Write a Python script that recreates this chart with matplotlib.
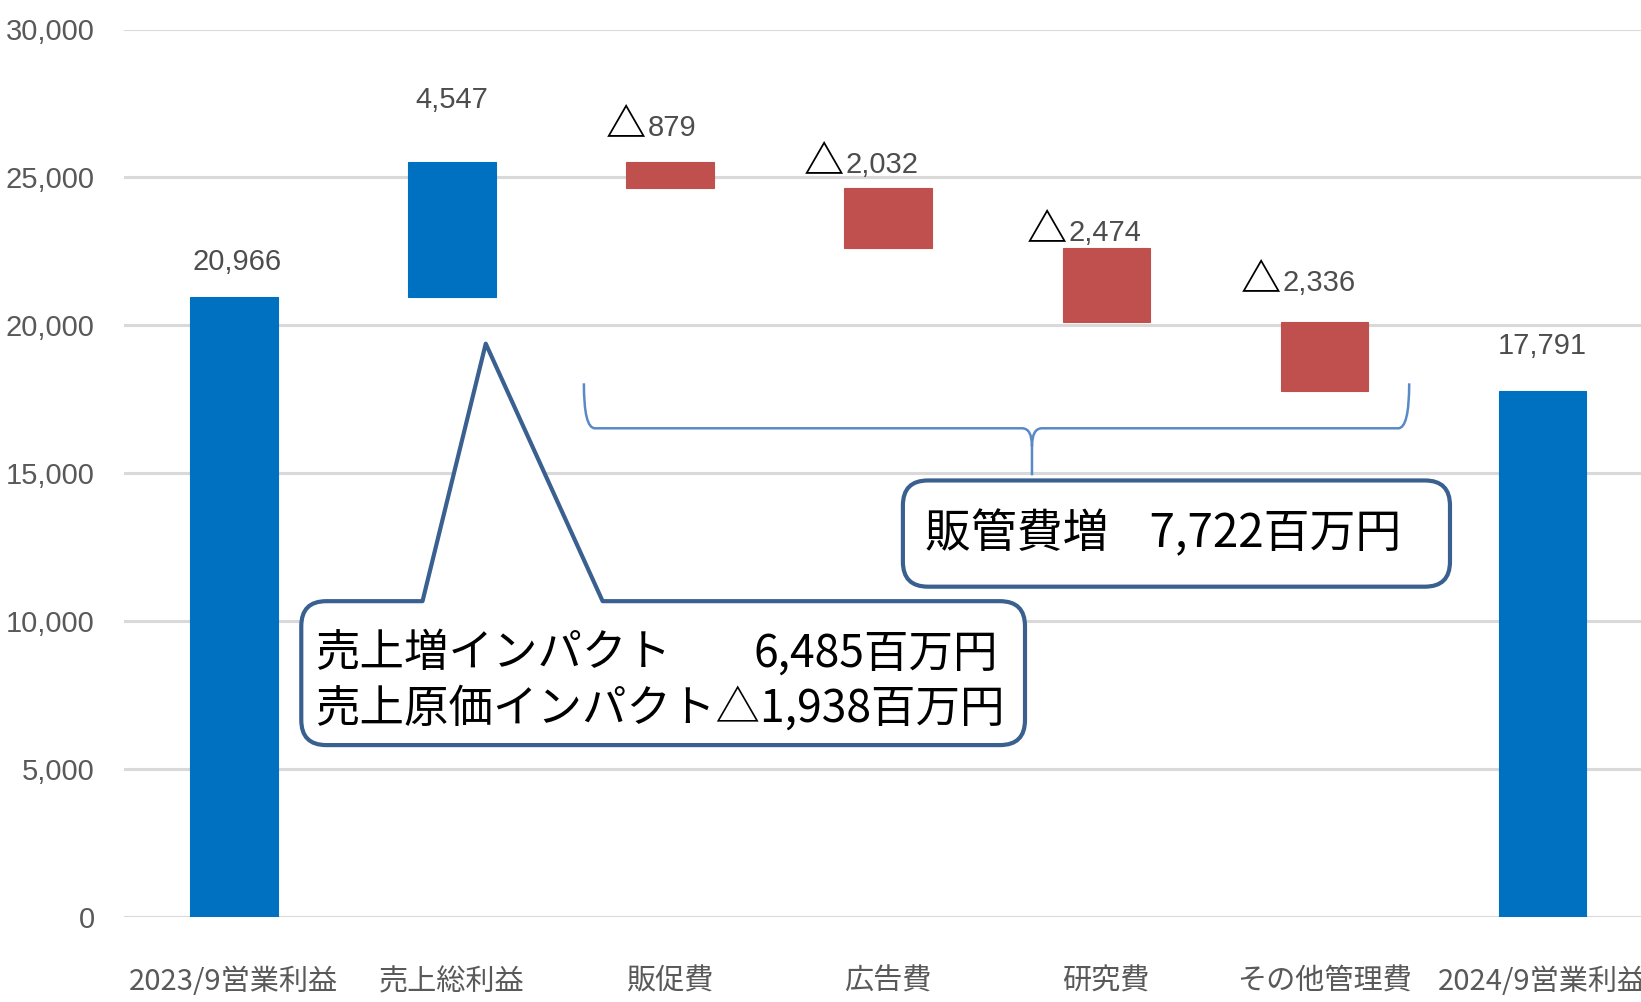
import matplotlib
matplotlib.use("Agg")
import matplotlib.pyplot as plt
from matplotlib.path import Path
from matplotlib.patches import PathPatch
from matplotlib.offsetbox import TextArea, HPacker, AnnotationBbox
from matplotlib.ticker import FuncFormatter
from matplotlib import font_manager as fm

# ---------------- data ----------------
categories = ["2023/9営業利益", "売上総利益", "販促費", "広告費", "研究費", "その他管理費", "2024/9営業利益"]
values = [20966, 4547, -879, -2032, -2474, -2336, 17791]
is_total = [True, False, False, False, False, False, True]
y_ticks = [0, 5000, 10000, 15000, 20000, 25000, 30000]

callout_sales_left = "売上増インパクト"
callout_sales_right = "6,485百万円"
callout_cost_line = "売上原価インパクト△1,938百万円"
callout_sga = "販管費増    7,722百万円"

# ---------------- styles ----------------
BLUE = "#0070C0"
RED = "#C0504D"
GRID = "#D9D9D9"
TICK = "#595959"
LABEL = "#4D4D4D"
BOX_EDGE = "#3A6090"
BRACE = "#5A8AC6"
CJK = ["Noto Sans CJK JP", "DejaVu Sans"]
NUM_FP = fm.FontProperties(family=["Liberation Sans", "DejaVu Sans"])
NUM_SIZE = 21

# label offsets (px) relative to bar centre / bar top
label_offsets_px = [(3, 35), (0, 62), (-19, 38), (-27, 27), (-22, 19), (-26, 42), (0, 45)]

# ---------------- derived bars ----------------
bottoms, heights, colors, tops = [], [], [], []
running = 0
for v, t in zip(values, is_total):
    if t:
        b, h = 0, v
        running = v
        c = BLUE
    else:
        b = running if v > 0 else running + v
        h = abs(v)
        running += v
        c = BLUE if v > 0 else RED
    bottoms.append(b)
    heights.append(h)
    colors.append(c)
    tops.append(b + h)

fig = plt.figure(figsize=(16.41, 10.02), dpi=100)
ax = fig.add_axes([124 / 1641, 85 / 1002, 1517 / 1641, 887.5 / 1002])
ax.set_xlim(-0.504, 6.453)
ax.set_ylim(0, 30000)

x = list(range(len(categories)))
ax.bar(x, heights, bottom=bottoms, width=0.4, color=colors, edgecolor=colors, linewidth=0.8, zorder=2)

ax.set_yticks(y_ticks)
ax.yaxis.set_major_formatter(FuncFormatter(lambda v, p: f"{int(v):,}"))
ax.set_xticks(x)
ax.set_xticklabels(categories)
ax.tick_params(axis="y", length=0, pad=21, labelcolor=TICK)
ax.tick_params(axis="x", length=0, pad=36, labelsize=21, labelcolor=TICK)
for lab in ax.get_yticklabels():
    lab.set_fontproperties(NUM_FP)
    lab.set_fontsize(NUM_SIZE)
for lab in ax.get_xticklabels():
    lab.set_fontfamily(CJK)
    lab.set_fontsize(21)
ax.yaxis.grid(True, color=GRID, linewidth=2.2, zorder=0)
ax.set_axisbelow(True)
for s in ax.spines.values():
    s.set_visible(False)

# ---------------- data labels ----------------
PT = 72 / fig.dpi
for i, (v, top) in enumerate(zip(values, tops)):
    dx, dy = label_offsets_px[i]
    num = TextArea(f"{abs(v):,}", textprops=dict(color=LABEL, fontproperties=NUM_FP, fontsize=NUM_SIZE))
    if v < 0 and not is_total[i]:
        tri = TextArea("△", textprops=dict(color="black", fontsize=29, family=CJK, fontweight="bold"))
        box = HPacker(children=[tri, num], pad=0, sep=1, align="baseline")
    else:
        box = num
    ab = AnnotationBbox(box, (i, top), xybox=(dx * PT, dy * PT), xycoords="data",
                        boxcoords="offset points", box_alignment=(0.5, 0.5), frameon=False, pad=0)
    ax.add_artist(ab)

# ---------------- callout shapes ----------------
fig.canvas.draw()
sx = ax.transData.transform((1, 0))[0] - ax.transData.transform((0, 0))[0]
sy = ax.transData.transform((0, 1000))[1] - ax.transData.transform((0, 0))[1]
px_x = 1 / sx           # data x per pixel
px_y = 1000 / sy        # data y per pixel


def rounded_box(x0, x1, y0, y1, r_px, pointer=None):
    rx, ry = r_px * px_x, r_px * px_y
    V = [(x0 + rx, y1)]
    C = [Path.MOVETO]
    if pointer is not None:
        bx0, bx1, tx, ty = pointer
        V += [(bx0, y1), (tx, ty), (bx1, y1)]
        C += [Path.LINETO] * 3
    V += [(x1 - rx, y1), (x1, y1), (x1, y1 - ry),
          (x1, y0 + ry), (x1, y0), (x1 - rx, y0),
          (x0 + rx, y0), (x0, y0), (x0, y0 + ry),
          (x0, y1 - ry), (x0, y1), (x0 + rx, y1), (x0 + rx, y1)]
    C += [Path.LINETO, Path.CURVE3, Path.CURVE3,
          Path.LINETO, Path.CURVE3, Path.CURVE3,
          Path.LINETO, Path.CURVE3, Path.CURVE3,
          Path.LINETO, Path.CURVE3, Path.CURVE3, Path.CLOSEPOLY]
    return Path(V, C)


# sales callout (box with pointer toward the gross-profit bar)
p1 = rounded_box(0.309, 3.628, 5811, 10676, 25, pointer=(0.865, 1.691, 1.155, 19380))
ax.add_patch(PathPatch(p1, facecolor="white", edgecolor=BOX_EDGE, linewidth=3.0,
                       joinstyle="round", zorder=5))
# SG&A callout box
p2 = rounded_box(3.068, 5.577, 11166, 14756, 25)
ax.add_patch(PathPatch(p2, facecolor="white", edgecolor=BOX_EDGE, linewidth=3.0, zorder=5))

# brace over the expense bars
xl, xr, xt = 1.605, 5.390, 3.660
yt, yb, ytip = 18040, 16520, 14930
cdx = 11 * px_x
cux, cuy = 10 * px_x, 18 * px_y
bv = [(xl, yt), (xl, yb), (xl + cdx, yb), (xt - cux, yb), (xt, yb), (xt, yb - cuy), (xt, ytip),
      (xr, yt), (xr, yb), (xr - cdx, yb), (xt + cux, yb), (xt, yb), (xt, yb - cuy)]
bc = [Path.MOVETO, Path.CURVE3, Path.CURVE3, Path.LINETO, Path.CURVE3, Path.CURVE3, Path.LINETO,
      Path.MOVETO, Path.CURVE3, Path.CURVE3, Path.LINETO, Path.CURVE3, Path.CURVE3]
ax.add_patch(PathPatch(Path(bv, bc), facecolor="none", edgecolor=BRACE, linewidth=1.8, zorder=4))

# callout texts
ax.text(0.372, 8920, callout_sales_left, ha="left", va="center", fontsize=32, family=CJK,
        color="black", zorder=6)
ax.text(3.504, 8920, callout_sales_right, ha="right", va="center", fontsize=32, family=CJK,
        color="black", zorder=6)
ax.text(0.372, 7060, callout_cost_line, ha="left", va="center", fontsize=32, family=CJK,
        color="black", zorder=6)
ax.text(3.169, 12950, callout_sga, ha="left", va="center", fontsize=33, family=CJK,
        color="black", zorder=6)

fig.savefig("out.png", dpi=100)
